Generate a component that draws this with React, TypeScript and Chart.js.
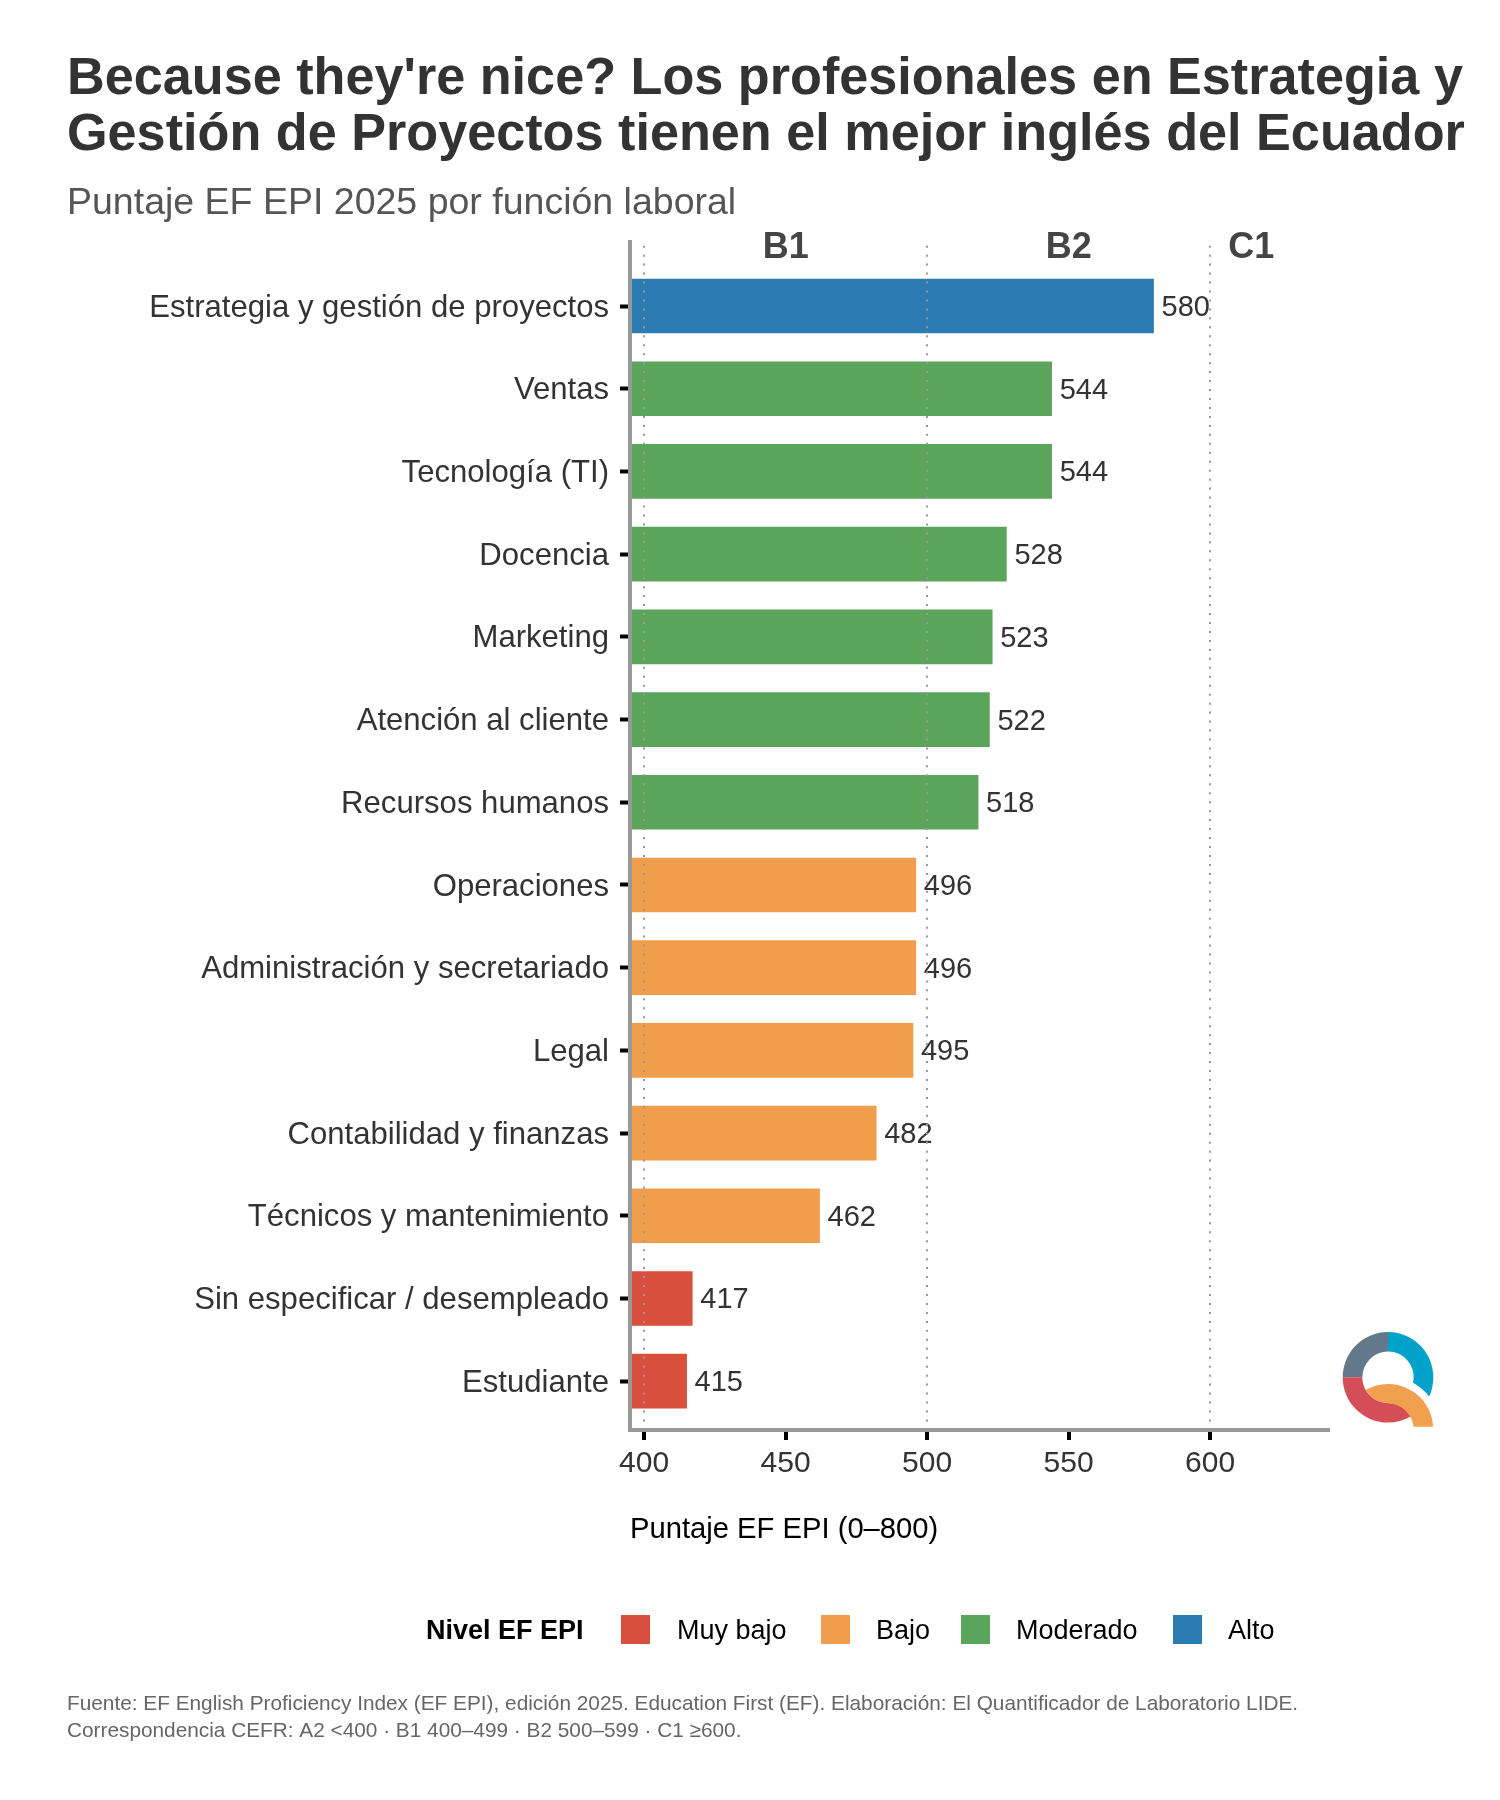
import { FC, useEffect, useRef } from 'react';
import { Chart, registerables } from 'chart.js';

Chart.register(...registerables);

const FONT = "'Liberation Sans', Arial, sans-serif";

const categories = [
  'Estrategia y gestión de proyectos',
  'Ventas',
  'Tecnología (TI)',
  'Docencia',
  'Marketing',
  'Atención al cliente',
  'Recursos humanos',
  'Operaciones',
  'Administración y secretariado',
  'Legal',
  'Contabilidad y finanzas',
  'Técnicos y mantenimiento',
  'Sin especificar / desempleado',
  'Estudiante'
];
const scores = [580, 544, 544, 528, 523, 522, 518, 496, 496, 495, 482, 462, 417, 415];
const levels = [
  'Alto', 'Moderado', 'Moderado', 'Moderado', 'Moderado', 'Moderado', 'Moderado',
  'Bajo', 'Bajo', 'Bajo', 'Bajo', 'Bajo', 'Muy bajo', 'Muy bajo'
];
const levelNames = ['Muy bajo', 'Bajo', 'Moderado', 'Alto'];
const levelColors = ['#D94F3D', '#F09E4C', '#5BA55B', '#2C7BB3'];
const xTicks = [400, 450, 500, 550, 600];
const bandNames = ['B1', 'B2', 'C1'];
const bandCenters = [450, 550, 614.5];
const footerLines = [
  'Fuente: EF English Proficiency Index (EF EPI), edición 2025. Education First (EF). Elaboración: El Quantificador de Laboratorio LIDE.',
  'Correspondencia CEFR: A2 <400 · B1 400–499 · B2 500–599 · C1 ≥600.'
];

// the title runs past the plot's right edge, so let its box use the whole canvas
const wideTitle = {
  id: 'wideTitle',
  afterLayout(chart: any) {
    chart.titleBlock.right = chart.width;
    chart.titleBlock.width = chart.width - chart.titleBlock.left;
  }
};

const valueLabels = {
  id: 'valueLabels',
  afterDatasetsDraw(chart: Chart) {
    const { ctx } = chart;
    const bars = chart.getDatasetMeta(0).data;
    ctx.save();
    ctx.font = `29px ${FONT}`;
    ctx.fillStyle = '#333333';
    ctx.textAlign = 'left';
    ctx.textBaseline = 'middle';
    bars.forEach((bar, i) => ctx.fillText(String(scores[i]), bar.x + 8, bar.y + 2));
    ctx.restore();
  }
};

const bandLabels = {
  id: 'bandLabels',
  afterDraw(chart: Chart) {
    const { ctx } = chart;
    const x = chart.scales.x;
    ctx.save();
    ctx.font = `bold 36px ${FONT}`;
    ctx.fillStyle = '#444444';
    ctx.textAlign = 'center';
    ctx.textBaseline = 'middle';
    bandNames.forEach((name, i) => ctx.fillText(name, x.getPixelForValue(bandCenters[i]), 248));
    ctx.restore();
  }
};

const levelLegend = {
  id: 'levelLegend',
  afterDraw(chart: Chart) {
    const { ctx } = chart;
    const swatchX = [621, 821, 961, 1173];
    const textX = [677, 876, 1016, 1228];
    ctx.save();
    ctx.textBaseline = 'middle';
    ctx.textAlign = 'left';
    ctx.fillStyle = '#000000';
    ctx.font = `bold 27px ${FONT}`;
    ctx.fillText('Nivel EF EPI', 426, 1632);
    ctx.font = `27px ${FONT}`;
    levelNames.forEach((name, i) => {
      ctx.fillStyle = levelColors[i];
      ctx.fillRect(swatchX[i], 1615, 29, 29);
      ctx.fillStyle = '#000000';
      ctx.fillText(name, textX[i], 1632);
    });
    ctx.restore();
  }
};

const footer = {
  id: 'footer',
  afterDraw(chart: Chart) {
    const { ctx } = chart;
    ctx.save();
    ctx.font = `20.8px ${FONT}`;
    ctx.fillStyle = '#666666';
    ctx.textAlign = 'left';
    ctx.textBaseline = 'middle';
    footerLines.forEach((line, i) => ctx.fillText(line, 67, 1704 + i * 27));
    ctx.restore();
  }
};

// the logo in the lower right corner
const logo = {
  id: 'logo',
  afterDraw(chart: Chart) {
    const { ctx } = chart;
    const cx = 1388;
    const cy = 1377.3;
    const oy = 1429.3;
    const outer = 45.3;
    const inner = 25.7;
    const deg = Math.PI / 180;
    const ring = (start: number, end: number, color: string, anti = false) => {
      ctx.beginPath();
      ctx.arc(cx, cy, outer, start * deg, end * deg, anti);
      ctx.arc(cx, cy, inner, end * deg, start * deg, !anti);
      ctx.closePath();
      ctx.fillStyle = color;
      ctx.fill();
    };
    ctx.save();
    ring(270, 410, '#00A2CA');
    ctx.beginPath();
    ctx.arc(cx, oy, 52.7, 0, Math.PI * 2);
    ctx.fillStyle = '#FFFFFF';
    ctx.fill();
    ring(180, 270, '#64788C');
    ring(180, 60, '#D44D57', true);
    ctx.beginPath();
    ctx.rect(cx - 60, cy - 60, 120, 1426.7 - (cy - 60));
    ctx.clip();
    ctx.beginPath();
    ctx.arc(cx, oy, outer, 0, 240 * deg, true);
    ctx.arc(cx, cy, inner, 148.5 * deg, 90 * deg, true);
    ctx.arc(cx, oy, inner, 270 * deg, 360 * deg);
    ctx.closePath();
    ctx.fillStyle = '#F0A04F';
    ctx.fill();
    ctx.restore();
  }
};

const App: FC = () => {
  const chartRef = useRef<HTMLCanvasElement | null>(null);

  useEffect(() => {
    if (!chartRef.current) return;
    const myChart = new Chart(chartRef.current, {
      type: 'bar',
      data: {
        datasets: [
          {
            data: scores.map((score, i) => ({ x: score, y: i })),
            backgroundColor: levels.map((level) => levelColors[levelNames.indexOf(level)]),
            barThickness: 54
          }
        ]
      },
      options: {
        indexAxis: 'y',
        responsive: false,
        devicePixelRatio: 1,
        animation: false,
        layout: { padding: { top: 52, left: 67, right: 171, bottom: 200 } },
        scales: {
          x: {
            type: 'linear',
            min: 395,
            max: 642,
            afterBuildTicks: (scale) => {
              scale.ticks = xTicks.map((value) => ({ value }));
            },
            afterFit: (scale) => {
              scale.height = 170;
            },
            border: { display: true, color: '#999999', width: 4, z: 1, dash: [2, 6.96], dashOffset: 5.3 },
            grid: {
              z: 1,
              color: (ctx) => (ctx.tick && ctx.tick.value % 100 === 0 ? '#999999' : 'rgba(0,0,0,0)'),
              lineWidth: 2,
              drawTicks: true,
              tickLength: 10,
              tickWidth: 4,
              tickColor: '#000000'
            },
            ticks: {
              padding: 6,
              color: '#333333',
              font: { family: FONT, size: 30 },
              maxRotation: 0,
              callback: (value) => String(value)
            },
            title: {
              display: true,
              align: 'start',
              text: 'Puntaje EF EPI (0–800)',
              color: '#000000',
              font: { family: FONT, size: 29.2 },
              padding: { top: 0, bottom: 53 }
            }
          },
          y: {
            type: 'linear',
            reverse: true,
            offset: false,
            min: -0.774,
            max: 13.59,
            afterBuildTicks: (scale) => {
              scale.ticks = categories.map((_, value) => ({ value }));
            },
            afterFit: (scale) => {
              scale.width = 563;
            },
            border: { display: true, color: '#999999', width: 4, z: 1 },
            grid: {
              offset: false,
              drawOnChartArea: false,
              drawTicks: true,
              tickLength: 10,
              tickWidth: 4,
              tickColor: '#000000'
            },
            ticks: {
              padding: 11,
              labelOffset: 2,
              color: '#333333',
              autoSkip: false,
              font: { family: FONT, size: 31.1 },
              callback: (value) => categories[Number(value)]
            }
          }
        },
        plugins: {
          legend: { display: false },
          tooltip: { enabled: false },
          title: {
            display: true,
            align: 'start',
            text: [
              "Because they're nice? Los profesionales en Estrategia y",
              'Gestión de Proyectos tienen el mejor inglés del Ecuador'
            ],
            color: '#333333',
            font: { family: FONT, size: 52.2, weight: 'bold', lineHeight: 1.073 },
            padding: { top: 0, bottom: 17 }
          },
          subtitle: {
            display: true,
            align: 'start',
            text: 'Puntaje EF EPI 2025 por función laboral',
            color: '#555555',
            font: { family: FONT, size: 37.5 },
            padding: { top: 0, bottom: 16 }
          }
        }
      },
      plugins: [wideTitle, valueLabels, bandLabels, levelLegend, footer, logo]
    });

    return () => {
      myChart.destroy();
    };
  }, []);

  return (
    <>
      <style>{'body { margin: 0; background: #fff; }'}</style>
      <canvas ref={chartRef} width={1500} height={1800} style={{ display: 'block' }}></canvas>
    </>
  );
};

export default App;
